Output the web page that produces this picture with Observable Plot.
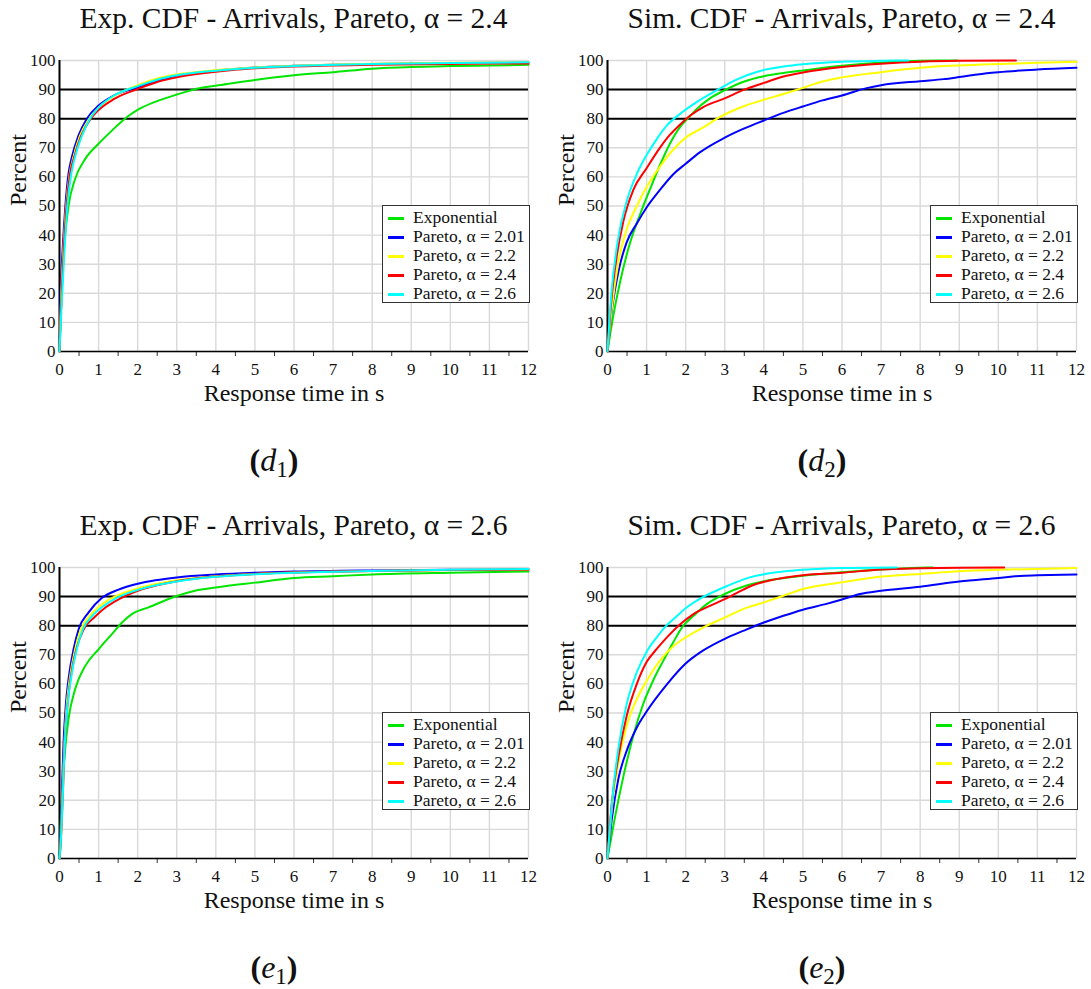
<!DOCTYPE html>
<html>
<head>
<meta charset="utf-8">
<script src="https://cdn.jsdelivr.net/npm/d3@7"></script>
<script src="https://cdn.jsdelivr.net/npm/@observablehq/plot@0.6"></script>
<style>
  html, body { margin: 0; padding: 0; background: #fff; }
  body { font-family: "Liberation Serif", "Times New Roman", serif; color: #111; }
  #root { position: relative; width: 1091px; height: 989px; overflow: hidden; }
  #root svg, #root svg text { font-family: "Liberation Serif", "Times New Roman", serif !important; }
  .panel { position: absolute; width: 545px; height: 500px; }
  .title { position: absolute; left: 39px; width: 509px; top: 3px; text-align: center; font-size: 29.5px; line-height: 30px; white-space: nowrap; }
  .plot { position: absolute; left: 0; top: 0; }
  .legend { position: absolute; left: 382px; top: 205px; width: 146px; height: 96px; border: 1.5px solid #333; background: #fff; }
  .row { position: absolute; left: 0; height: 19px; line-height: 19px; font-size: 17.5px; white-space: nowrap; }
  .swatch { display: inline-block; width: 16px; height: 2.5px; margin-left: 5px; margin-right: 9px; vertical-align: middle; }
  .sub { position: absolute; left: 174px; width: 200px; top: 444px; text-align: center; font-size: 32px; line-height: 32px; }
  .sub .par { font-weight: bold; }
  .sub sub { font-size: 0.72em; vertical-align: -0.25em; }
</style>
</head>
<body>
<div id="root"></div>
<script>
// ---------- tick labels / categories ----------
const seriesNames = ["Exponential", "Pareto, α = 2.01", "Pareto, α = 2.2", "Pareto, α = 2.4", "Pareto, α = 2.6"];
const seriesColors = ["#00e600", "#0000ff", "#ffff00", "#ff0000", "#00ffff"];
const xTicks = [0, 1, 2, 3, 4, 5, 6, 7, 8, 9, 10, 11, 12];
const xMinorTicks = [0.5, 1.5, 2.5, 3.5, 4.5, 5.5, 6.5, 7.5, 8.5, 9.5, 10.5, 11.5];
const yTicks = [0, 10, 20, 30, 40, 50, 60, 70, 80, 90, 100];
const refLines = [80, 90];
const panelTitles = ["Exp. CDF - Arrivals, Pareto, α = 2.4", "Sim. CDF - Arrivals, Pareto, α = 2.4",
                     "Exp. CDF - Arrivals, Pareto, α = 2.6", "Sim. CDF - Arrivals, Pareto, α = 2.6"];
const panelLetters = ["d", "d", "e", "e"];
const panelIndices = ["1", "2", "1", "2"];

// ---------- (d1) Exp. CDF, alpha = 2.4 ----------
const d1Exponential = [[0,0],[0.02,8],[0.07,25],[0.145,40],[0.23,50],[0.4,59.3],[0.66,66.2],[1,71.4],[1.34,75.9],[1.72,80.5],[2.02,83.2],[2.45,85.8],[3,88.3],[3.55,90.4],[4,91.3],[5,93.3],[6,94.9],[7,96],[8,97.2],[9,97.8],[10,98.1],[11,98.3],[12,98.5]];
const d1Pareto201 = [[0,0],[0.03,20],[0.08,35],[0.15,50],[0.23,61],[0.32,67],[0.48,74],[0.7,80],[1,84.5],[1.4,88],[2,90.8],[2.5,93],[3,94.8],[4,96.5],[5,97.6],[6,98.2],[8,98.8],[10,99.1],[12,99.3]];
const d1Pareto22 = [[0,0],[0.04,18],[0.1,35],[0.17,50],[0.26,61],[0.36,67],[0.52,74],[0.76,80],[1,83.8],[1.4,87.8],[2,91.5],[2.5,93.8],[3,95.2],[4,96.7],[5,97.6],[6,98.2],[8,98.9],[10,99.2],[12,99.4]];
const d1Pareto24 = [[0,0],[0.05,18],[0.11,35],[0.18,50],[0.27,61],[0.38,67],[0.55,74],[0.8,80],[1,83],[1.4,86.8],[2,90.2],[2.5,92.6],[3,94.2],[4,96.1],[5,97.3],[6,97.9],[8,98.5],[10,98.8],[12,99.0]];
const d1Pareto26 = [[0,0],[0.05,15],[0.12,33],[0.2,50],[0.3,61],[0.4,67],[0.57,74],[0.78,80],[1,83.8],[1.4,88],[2,91.2],[2.5,93.4],[3,94.9],[4,96.5],[5,97.5],[6,98.1],[8,98.8],[10,99.1],[12,99.4]];

// ---------- (d2) Sim. CDF, alpha = 2.4 ----------
const d2Exponential = [[0,0],[0.15,12.4],[0.32,23.8],[0.57,37],[0.83,47],[1.08,55.5],[1.34,64],[1.6,71.5],[1.85,77],[2.05,80],[2.28,83.3],[2.62,87],[3,89.8],[3.5,92.8],[4,94.6],[4.5,95.7],[5,96.6],[6,98.2],[7,99.3],[8,99.9],[8.95,100]];
const d2Pareto201 = [[0,0],[0.11,14],[0.28,27.5],[0.49,37.5],[0.75,44],[1,49.5],[1.34,55.5],[1.69,61],[2,64.5],[2.37,68.5],[3,73.5],[3.47,76.5],[4,79.4],[4.5,82],[5,84.2],[5.5,86.3],[6,88],[6.63,90.5],[7,91.5],[8,92.9],[8.6,93.6],[9,94.3],[9.7,95.6],[10,96],[11,96.9],[12,97.5]];
const d2Pareto22 = [[0,0],[0.11,14.7],[0.27,30],[0.49,42],[0.75,50],[1,56.5],[1.34,63.5],[1.69,69.5],[2,73.5],[2.45,77],[2.8,80],[3.47,84.2],[4,86.5],[4.5,88.5],[5,90.6],[5.5,92.8],[6,94.2],[7,96],[8,97.5],[9,98.3],[10,98.8],[11,99.2],[12,99.6]];
const d2Pareto24 = [[0,0],[0.11,19],[0.24,33],[0.41,45],[0.66,55.5],[1,63],[1.34,70],[1.6,74.5],[1.86,78],[2.11,81],[2.45,84],[3,87],[3.5,90],[4,92.3],[4.5,94.5],[5,95.9],[6,97.8],[7,98.9],[8,99.6],[9,99.9],[10.45,100]];
const d2Pareto26 = [[0,0],[0.1,20],[0.25,37],[0.5,52],[0.75,61],[1,67.5],[1.26,73],[1.52,77.7],[1.86,81.7],[2.28,85.7],[2.79,89.7],[3.3,93.4],[3.9,96.4],[4.5,97.9],[5,98.7],[6,99.6],[7,99.9],[7.7,100]];

// ---------- (e1) Exp. CDF, alpha = 2.6 ----------
const e1Exponential = [[0,0],[0.02,8],[0.07,24],[0.145,37.6],[0.23,47.9],[0.4,58.2],[0.66,66.2],[1,71.9],[1.34,77.1],[1.6,81.1],[1.85,84],[2.28,86.3],[3,90.2],[3.47,92],[4,93.1],[5,94.8],[6,96.4],[7,97],[8,97.6],[10,98.2],[12,98.6]];
const e1Pareto201 = [[0,0],[0.02,5],[0.06,21.5],[0.1,38.7],[0.16,52.5],[0.23,61.6],[0.36,71.9],[0.49,78.8],[0.74,84.5],[1.08,89.5],[1.51,92.4],[2,94.4],[2.45,95.6],[3,96.6],[4,97.6],[5,98.2],[6,98.6],[8,99],[10,99.2],[12,99.3]];
const e1Pareto22 = [[0,0],[0.03,5],[0.07,20],[0.12,38],[0.18,52],[0.26,61.6],[0.4,71.9],[0.55,78.8],[0.8,83.8],[1.1,87.5],[1.5,90.5],[2,92.8],[2.5,94.4],[3,95.6],[4,97],[5,97.8],[6,98.3],[8,98.8],[10,99.1],[12,99.3]];
const e1Pareto24 = [[0,0],[0.03,5],[0.08,20],[0.13,38],[0.2,52],[0.28,61.6],[0.43,71.9],[0.62,78.8],[0.9,83],[1.2,86.5],[1.5,89],[2,92],[2.5,93.9],[3,95.3],[4,96.9],[5,97.8],[6,98.3],[8,98.8],[10,99.1],[12,99.3]];
const e1Pareto26 = [[0,0],[0.03,5],[0.08,20],[0.13,38],[0.2,52],[0.29,61.6],[0.44,71.9],[0.6,78.8],[0.85,83.5],[1.15,87],[1.5,89.8],[2,92.3],[2.5,94],[3,95.2],[4,96.8],[5,97.7],[6,98.2],[8,98.8],[10,99.2],[12,99.5]];

// ---------- (e2) Sim. CDF, alpha = 2.6 ----------
const e2Exponential = [[0,0],[0.15,11.2],[0.41,28.4],[0.66,42.2],[0.91,53],[1.18,61.5],[1.43,68],[1.69,74.5],[1.94,80],[2.2,83.4],[2.54,87.4],[3,90.9],[3.56,93.8],[4,95.3],[5,97.2],[6,98.4],[7,99.3],[8,99.9],[8.32,100]];
const e2Pareto201 = [[0,0],[0.11,13.5],[0.28,27.5],[0.49,37],[0.75,45],[1,50.5],[1.5,59.5],[2,67],[2.45,71.5],[3,75.5],[3.47,78.2],[4,81.1],[4.5,83.4],[5,85.5],[5.6,87.5],[6,89],[6.46,90.9],[7,92],[8,93.4],[9,95.2],[10,96.4],[10.55,97.1],[11,97.3],[12,97.6]];
const e2Pareto22 = [[0,0],[0.11,17],[0.28,33],[0.49,45.6],[0.75,54.8],[1,61],[1.34,68],[1.69,73],[2,76],[2.45,79.4],[3,82.8],[3.47,85.7],[4,88],[4.5,90.3],[5,92.6],[6,94.9],[7,96.9],[8,97.8],[9,98.7],[10,99.2],[11,99.5],[12,99.8]];
const e2Pareto24 = [[0,0],[0.11,19],[0.28,35],[0.49,49],[0.75,60],[1,67.5],[1.26,72],[1.52,76],[1.86,80.5],[2.2,84],[2.62,86.8],[3,89.1],[3.3,91.2],[3.73,94],[4.15,95.5],[5,97.3],[6,98.2],[7,99.3],[8,99.7],[9,99.9],[10.15,100]];
const e2Pareto26 = [[0,0],[0.15,24],[0.28,38],[0.49,53],[0.75,64],[1,71],[1.26,76],[1.47,79.5],[1.75,83],[2,86],[2.37,89.3],[3,93.3],[3.64,96.6],[4.5,98.6],[5,99.2],[6,99.8],[7.4,100]];

const panelSeries = [
  [d1Exponential, d1Pareto201, d1Pareto22, d1Pareto24, d1Pareto26],
  [d2Exponential, d2Pareto201, d2Pareto22, d2Pareto24, d2Pareto26],
  [e1Exponential, e1Pareto201, e1Pareto22, e1Pareto24, e1Pareto26],
  [e2Exponential, e2Pareto201, e2Pareto22, e2Pareto24, e2Pareto26]
];
const panelPos = [[0, 0], [548, 0], [0, 507], [548, 507]];

const root = document.getElementById("root");
const serif = '"Liberation Serif", "Times New Roman", serif';

function buildPlot(series) {
  const rows = [];
  series.forEach((pts, i) => pts.forEach(([x, y]) => rows.push({name: seriesNames[i], x, y})));
  return Plot.plot({
    width: 545, height: 410,
    marginLeft: 59, marginRight: 17, marginTop: 60, marginBottom: 59,
    style: {fontFamily: serif, fontSize: "17px", background: "transparent", color: "#111"},
    x: {domain: [0, 12], axis: null, label: null},
    y: {domain: [0, 100], axis: null, label: null},
    color: {domain: seriesNames, range: seriesColors},
    marks: [
      Plot.gridX(xTicks, {stroke: "#d9d9d9", strokeOpacity: 1, strokeWidth: 1.4}),
      Plot.gridY(yTicks, {stroke: "#d9d9d9", strokeOpacity: 1, strokeWidth: 1.4}),
      Plot.ruleY(refLines, {stroke: "#000", strokeWidth: 2}),
      Plot.axisX(xMinorTicks, {anchor: "bottom", tickSize: 5, tickFormat: () => "", stroke: "#333", label: null}),
      Plot.axisX(xTicks, {anchor: "bottom", tickSize: 0, tickPadding: 11, fontSize: 17, fontFamily: serif, label: null}),
      Plot.axisY(yTicks, {anchor: "left", tickSize: 0, tickPadding: 4, fontSize: 17, fontFamily: serif, label: null}),
      Plot.ruleX([0], {stroke: "#000", strokeWidth: 2}),
      Plot.ruleY([0], {stroke: "#000", strokeWidth: 1.6}),
      Plot.line(rows, {x: "x", y: "y", z: "name", stroke: "name", strokeWidth: 2, curve: "monotone-x"}),
      Plot.text(["Percent"], {frameAnchor: "left", dx: -41, rotate: -90, fontSize: 24, fontFamily: serif}),
      Plot.text(["Response time in s"], {frameAnchor: "bottom", dy: 49, fontSize: 24, fontFamily: serif})
    ]
  });
}

panelSeries.forEach((series, p) => {
  const div = document.createElement("div");
  div.className = "panel";
  div.style.left = panelPos[p][0] + "px";
  div.style.top = panelPos[p][1] + "px";

  const svg = buildPlot(series);
  svg.classList.add("plot");
  svg.style.position = "absolute";
  div.appendChild(svg);

  const title = document.createElement("div");
  title.className = "title";
  title.textContent = panelTitles[p];
  div.appendChild(title);

  const legend = document.createElement("div");
  legend.className = "legend";
  seriesNames.forEach((name, i) => {
    const row = document.createElement("div");
    row.className = "row";
    row.style.top = (1.5 + i * 19) + "px";
    const sw = document.createElement("span");
    sw.className = "swatch";
    sw.style.background = seriesColors[i];
    row.appendChild(sw);
    row.appendChild(document.createTextNode(name));
    legend.appendChild(row);
  });
  div.appendChild(legend);

  const sub = document.createElement("div");
  sub.className = "sub";
  sub.innerHTML = '<span class="par">(</span><i>' + panelLetters[p] + '</i><sub>' + panelIndices[p] + '</sub><span class="par">)</span>';
  div.appendChild(sub);

  root.appendChild(div);
});
</script>
</body>
</html>
